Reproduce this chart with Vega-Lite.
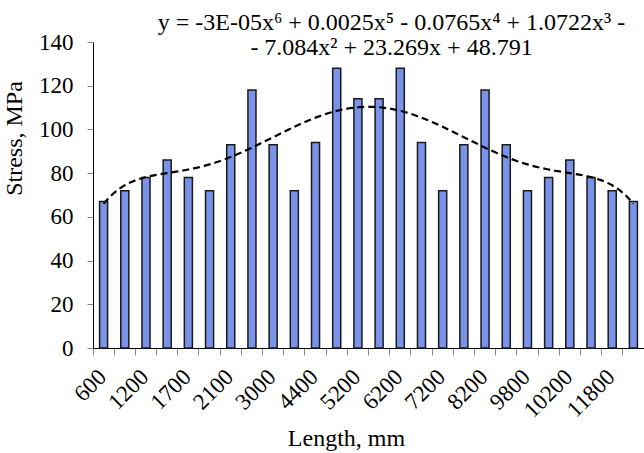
{
  "$schema": "https://vega.github.io/schema/vega-lite/v6.json",
  "width": 551,
  "height": 306,
  "autosize": "none",
  "padding": {"left": 93, "top": 42, "right": 0, "bottom": 105},
  "background": "white",
  "config": {
    "font": "Liberation Serif",
    "view": {"stroke": null},
    "axis": {
      "labelFont": "Liberation Serif",
      "titleFont": "Liberation Serif",
      "labelFontSize": 23,
      "titleFontSize": 24,
      "titleFontWeight": "normal",
      "labelColor": "black",
      "titleColor": "black",
      "domainColor": "black",
      "domainWidth": 1,
      "tickColor": "#888888",
      "grid": false
    }
  },
  "title": {
    "text": ["y = -3E-05x⁶ + 0.0025x⁵ - 0.0765x⁴ + 1.0722x³ -", "- 7.084x² + 23.269x + 48.791"],
    "font": "Liberation Serif",
    "fontSize": 24,
    "fontWeight": "normal",
    "color": "black",
    "frame": "group",
    "anchor": "middle",
    "align": "center",
    "baseline": "alphabetic",
    "lineHeight": 25,
    "offset": 0,
    "dx": 23,
    "dy": 48
  },
  "data": {
    "values": [
      {"i": 1, "length": "600", "stress": 67},
      {"i": 2, "length": "900", "stress": 72},
      {"i": 3, "length": "1200", "stress": 78},
      {"i": 4, "length": "1500", "stress": 86},
      {"i": 5, "length": "1700", "stress": 78},
      {"i": 6, "length": "1900", "stress": 72},
      {"i": 7, "length": "2100", "stress": 93},
      {"i": 8, "length": "2500", "stress": 118},
      {"i": 9, "length": "3000", "stress": 93},
      {"i": 10, "length": "3600", "stress": 72},
      {"i": 11, "length": "4400", "stress": 94},
      {"i": 12, "length": "4800", "stress": 128},
      {"i": 13, "length": "5200", "stress": 114},
      {"i": 14, "length": "5700", "stress": 114},
      {"i": 15, "length": "6200", "stress": 128},
      {"i": 16, "length": "6700", "stress": 94},
      {"i": 17, "length": "7200", "stress": 72},
      {"i": 18, "length": "7700", "stress": 93},
      {"i": 19, "length": "8200", "stress": 118},
      {"i": 20, "length": "9000", "stress": 93},
      {"i": 21, "length": "9800", "stress": 72},
      {"i": 22, "length": "10000", "stress": 78},
      {"i": 23, "length": "10200", "stress": 86},
      {"i": 24, "length": "11000", "stress": 78},
      {"i": 25, "length": "11800", "stress": 72},
      {"i": 26, "length": "12400", "stress": 67}
    ]
  },
  "layer": [
    {
      "mark": {"type": "bar", "width": {"band": 0.38}, "fill": "#7993e8", "stroke": "#1a1a1a", "strokeWidth": 1.5},
      "encoding": {
        "x": {
          "field": "length",
          "type": "ordinal",
          "sort": null,
          "scale": {"paddingInner": 0, "paddingOuter": 0},
          "axis": {
            "title": "Length, mm",
            "bandPosition": 0,
            "tickSize": 7,
            "labelAngle": -45,
            "labelAlign": "right",
            "labelBaseline": "middle",
            "labelOffset": -1,
            "labelPadding": 18,
            "labelOverlap": false,
            "labelFlush": false,
            "labelExpr": "indexof(['600','1200','1700','2100','3000','4400','5200','6200','7200','8200','9800','10200','11800'], datum.label) >= 0 ? datum.label : ''",
            "titleX": 253,
            "titleY": 97,
            "titleAlign": "center",
            "titleBaseline": "alphabetic"
          }
        },
        "y": {
          "field": "stress",
          "type": "quantitative",
          "scale": {"domain": [0, 140]},
          "axis": {
            "title": "Stress, MPa",
            "values": [0, 20, 40, 60, 80, 100, 120, 140],
            "tickSize": 6,
            "labelPadding": 14,
            "titleX": -79,
            "titleY": 96,
            "titleAngle": -90,
            "titleAlign": "center",
            "titleBaseline": "middle"
          }
        }
      }
    },
    {
      "transform": [{"regression": "stress", "on": "i", "method": "poly", "order": 6}],
      "mark": {"type": "line", "stroke": "black", "strokeDash": [7, 4], "strokeWidth": 2.2},
      "encoding": {
        "x": {"field": "i", "type": "quantitative", "scale": {"domain": [0.5, 26.5], "nice": false, "zero": false}, "axis": null},
        "y": {"field": "stress", "type": "quantitative"}
      }
    }
  ],
  "resolve": {"scale": {"x": "independent"}}
}
